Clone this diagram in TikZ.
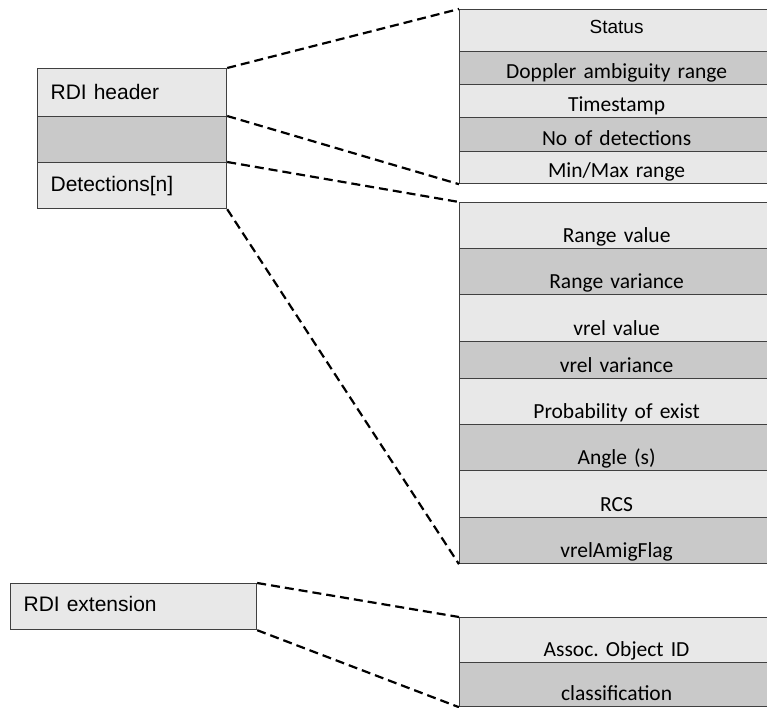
\documentclass[tikz,border=0pt]{standalone}
\usepackage{fontspec}
\setmainfont{Liberation Sans}
\newfontfamily\calibri{Carlito}
\frenchspacing
\definecolor{lightrow}{HTML}{E8E8E8}
\definecolor{darkrow}{HTML}{C9C9C9}
\definecolor{rule}{HTML}{404040}
\tikzset{
  row/.style={draw=rule, line width=1.2pt, anchor=north west, inner sep=0pt},
  field/.style={row, text width=314pt, align=center, text depth=6.5pt,
    font=\calibri\fontsize{21.5}{24}\selectfont},
  block/.style={row, inner xsep=13pt, text width=163pt, align=left,
    font=\fontsize{21}{24}\selectfont},
  link/.style={black, line width=2.2pt, dash pattern=on 9pt off 5pt}
}
\begin{document}
\begin{tikzpicture}[x=1pt, y=-1pt]
            \clip (0,0) rectangle (767,707);
            % left side
            \foreach \n/\t/\b/\f/\s in {lh/68/116/lightrow/RDI header, le/116/162/darkrow/{}, ld/162/208/lightrow/Detections[n]}{
              \pgfmathsetmacro\h{\b-\t-17}
              \node[block, fill=\f, text height=\h pt, text depth=17pt] (\n) at (37,\t) {\s};
            }
            \node[block, fill=lightrow, text width=220pt, text height=28pt, text depth=18pt] (ext) at (10,583) {RDI extension};
            % header fields
            \node[field, fill=lightrow, font=\fontsize{19}{22}\selectfont, text height=24pt, text depth=18pt] (st) at (459,9) {Status};
            \foreach \n/\t/\b/\f/\s in {dr/51/84/darkrow/Doppler ambiguity range, ts/84/117/lightrow/Timestamp,
                nd/117/151/darkrow/No of detections, mm/151/183/lightrow/{Min/Max range}}{
              \pgfmathsetmacro\h{\b-\t-6.5}
              \node[field, fill=\f, text height=\h pt] (\n) at (459,\t) {\s};
            }
            % detection fields
            \foreach \n/\t/\b/\f/\s in {d1/202/248/lightrow/Range value, d2/248/294/darkrow/Range variance,
                d3/294/341/lightrow/vrel value, d4/341/378/darkrow/vrel variance,
                d5/378/424/lightrow/Probability of exist, d6/424/470/darkrow/Angle (s),
                d7/470/517/lightrow/RCS, d8/517/563/darkrow/vrelAmigFlag,
                a1/617/662/lightrow/Assoc. Object ID, a2/662/706/darkrow/classification}{
              \pgfmathsetmacro\h{\b-\t-6.5}
              \node[field, fill=\f, text height=\h pt] (\n) at (459,\t) {\s};
            }
            \draw[link] (lh.north east) -- (st.north west);
            \draw[link] (le.north east) -- (mm.south west);
            \draw[link] (ld.north east) -- (d1.north west);
            \draw[link] (ld.south east) -- (d8.south west);
            \draw[link] (ext.north east) -- (a1.north west);
            \draw[link] (ext.south east) -- (a2.south west);
\end{tikzpicture}
\end{document}
